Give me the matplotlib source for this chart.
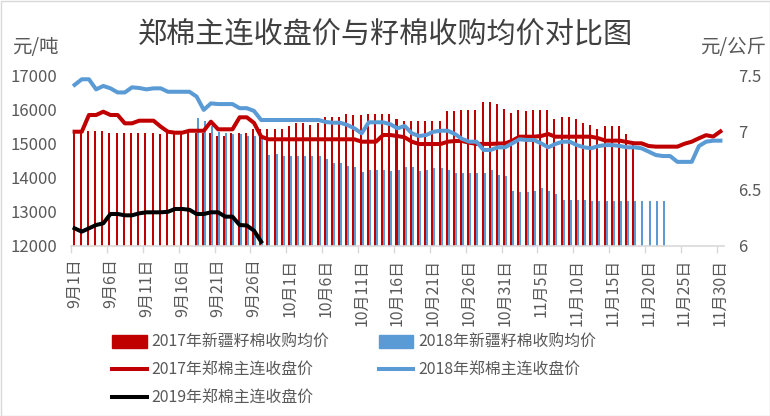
import numpy as np
import matplotlib
matplotlib.use("Agg")
import matplotlib.pyplot as plt
from matplotlib.patches import Patch, Rectangle
from matplotlib.lines import Line2D

plt.rcParams['font.family'] = ['Noto Sans CJK SC', 'DejaVu Sans']

# ---------------- data ----------------
months = [9] * 30 + [10] * 31 + [11] * 30
days = list(range(1, 31)) + list(range(1, 32)) + list(range(1, 31))
dates = [f"{m}月{d}日" for m, d in zip(months, days)]

# 2017 seed cotton purchase price (元/公斤), Sep 1 .. Nov 18
seed_2017 = [7.00, 7.00, 7.01, 7.01, 7.01,
             6.99, 6.99, 6.99, 6.99, 6.99, 6.99, 6.99,
             6.98,
             6.99, 6.99, 6.99, 6.99, 6.99, 6.99, 6.99,
             6.965, 6.965,
             6.99, 6.99, 6.99,
             7.03, 7.03, 7.03, 7.03, 7.03,
             7.05, 7.08, 7.08, 7.06, 7.08,
             7.13, 7.13, 7.13,
             7.16, 7.15, 7.15,
             7.16, 7.16, 7.16, 7.16,
             7.11,
             7.10, 7.10, 7.10, 7.10, 7.10, 7.10,
             7.18, 7.18, 7.19, 7.19, 7.19, 7.26, 7.26, 7.25, 7.20,
             7.17, 7.19, 7.18, 7.19, 7.19, 7.19, 7.11, 7.13, 7.13,
             7.11, 7.08, 7.06, 7.03, 7.05, 7.05, 7.05, 6.98, 6.90]

# 2018 seed cotton purchase price (元/公斤), Sep 18 .. Nov 22
seed_2018_start = 17
seed_2018 = [7.12, 7.10, 7.05, 7.00, 6.99, 6.98, 6.98, 6.965, 6.965, 6.96,
             6.80, 6.81,
             6.79, 6.79, 6.79, 6.79, 6.79, 6.79,
             6.76, 6.725, 6.725, 6.70, 6.69, 6.65, 6.67, 6.67, 6.67, 6.66,
             6.67, 6.69, 6.69, 6.66, 6.67, 6.68, 6.68, 6.67,
             6.64, 6.64, 6.64, 6.64, 6.64,
             6.67, 6.62, 6.61, 6.48, 6.47, 6.47, 6.48, 6.51, 6.48, 6.46,
             6.40, 6.40, 6.40, 6.40,
             6.395, 6.395, 6.395, 6.395, 6.395, 6.395, 6.395, 6.395, 6.395,
             6.395, 6.395]

# Zhengzhou cotton main contract close (元/吨)
cf_2017 = [15342, 15342, 15830, 15830, 15927, 15830, 15830, 15587, 15587,
           15664, 15664, 15664, 15490, 15342, 15313, 15313, 15370, 15370,
           15370, 15635, 15412, 15412, 15412, 15763, 15763, 15600, 15200,
           15120, 15120, 15120, 15120, 15120, 15120, 15120, 15120, 15120,
           15120, 15120, 15120, 15120,
           15050, 15050, 15050,
           15245, 15245, 15215, 15178, 15050,
           14982, 14982, 14982, 14982,
           15050, 15070, 15070, 15020,
           14985, 14985, 14985, 14995, 15000,
           15080, 15196, 15196, 15196, 15216, 15275,
           15196, 15196, 15196, 15196, 15196, 15196,
           15150,
           15080, 15080, 15080,
           15040, 15003, 15003, 14924,
           14905, 14905, 14905, 14905,
           14990, 15050, 15150, 15240, 15200, 15350]

cf_2018 = [16710, 16875, 16875, 16580, 16680, 16610, 16490, 16490, 16640,
           16620, 16580, 16610, 16610, 16510, 16510, 16510, 16510, 16370,
           15980, 16170, 16150, 16150, 16150, 16030, 16030, 15950,
           15684, 15684, 15684, 15684, 15684, 15684, 15684, 15684, 15684,
           15626, 15605, 15605, 15540, 15440, 15295, 15617, 15617, 15617,
           15560, 15440, 15510, 15295, 15216, 15245, 15340, 15370, 15370,
           15275, 15130, 15050, 15050, 14807, 14810, 14885, 14885,
           15003, 15120, 15100, 15100, 15003, 14885, 14982, 15050, 15050,
           14950, 14885, 14857, 14924, 14950, 14950, 14924, 14885, 14885,
           14857, 14760, 14660, 14630, 14630, 14460, 14460, 14460, 14920,
           15050, 15080, 15080]

cf_2019 = [12517, 12420, 12517, 12614, 12663, 12936, 12936, 12897, 12897,
           12955, 12985, 12985, 12985, 13000, 13082, 13082, 13060, 12936,
           12936, 12985, 12985, 12858, 12858, 12614, 12600, 12450, 12127]

label_step = 5

# ---------------- colours ----------------
RED = '#C00000'
BLUE = '#5B9BD5'
BLACK = '#000000'
GREY_TXT = '#595959'
GREY_AX = '#D9D9D9'

W, H = 770, 416
fig = plt.figure(figsize=(W / 100, H / 100), dpi=100)
fig.patch.set_facecolor('white')
fig.add_artist(Rectangle((0.5 / W, 0.5 / H), 1 - 1 / W, 1 - 1 / H,
                         transform=fig.transFigure, fill=False,
                         edgecolor=GREY_AX, lw=1))

x0, x1 = 71, 724
y_top, y_bot = 75, 246
ax = fig.add_axes([x0 / W, 1 - y_bot / H, (x1 - x0) / W, (y_bot - y_top) / H])
axr = ax.twinx()
ax.set_zorder(axr.get_zorder() + 1)
ax.patch.set_visible(False)

n = len(dates)
idx = np.arange(n)

# bars (secondary axis)
bw = 0.28
axr.bar(idx[:len(seed_2017)] - bw / 2, seed_2017, width=bw, color=RED, linewidth=0)
idx18 = np.arange(seed_2018_start, seed_2018_start + len(seed_2018))
axr.bar(idx18 + bw / 2, seed_2018, width=bw, color=BLUE, linewidth=0)
axr.set_ylim(6, 7.5)
axr.set_yticks([6, 6.5, 7, 7.5])
axr.set_yticklabels(['6', '6.5', '7', '7.5'])

# lines (primary axis)
lw = 2.9
ax.plot(np.arange(len(cf_2017)), cf_2017, color=RED, lw=lw, solid_joinstyle='round')
ax.plot(np.arange(len(cf_2018)), cf_2018, color=BLUE, lw=lw, solid_joinstyle='round')
ax.plot(np.arange(len(cf_2019)), cf_2019, color=BLACK, lw=lw, solid_joinstyle='round')
ax.set_ylim(12000, 17000)
ax.set_yticks(range(12000, 17001, 1000))

ax.set_xlim(-0.5, n - 0.5)
axr.set_xlim(-0.5, n - 0.5)
ax.set_xticks(idx[::label_step])
ax.set_xticklabels(dates[::label_step], rotation=90, fontsize=11.5, color=GREY_TXT)
ax.set_xticks(np.arange(-0.5, n - 1, label_step), minor=True)
ax.tick_params(axis='x', which='major', length=0, pad=9)
ax.tick_params(axis='x', which='minor', length=5, color=GREY_AX, width=1)
ax.tick_params(axis='y', length=0, labelsize=12, colors=GREY_TXT, pad=10)
axr.tick_params(axis='y', length=0, labelsize=12, colors=GREY_TXT, pad=10)
axr.tick_params(axis='x', length=0, labelbottom=False)

for a in (ax, axr):
    for s in a.spines.values():
        s.set_visible(False)
ax.spines['bottom'].set_visible(True)
ax.spines['bottom'].set_color(GREY_AX)
ax.spines['bottom'].set_linewidth(1.2)

# titles / units
fig.text(385 / W, 1 - 35 / H, '郑棉主连收盘价与籽棉收购均价对比图', ha='center', va='center',
         fontsize=21, color='#404040')
fig.text(12 / W, 1 - 47 / H, '元/吨', ha='left', va='center', fontsize=14, color=GREY_TXT)
fig.text(766 / W, 1 - 47 / H, '元/公斤', ha='right', va='center', fontsize=14, color=GREY_TXT)

# legend
handles = [Patch(color=RED), Line2D([], [], color=RED, lw=lw), Line2D([], [], color=BLACK, lw=lw),
           Patch(color=BLUE), Line2D([], [], color=BLUE, lw=lw)]
labels = ['2017年新疆籽棉收购均价', '2017年郑棉主连收盘价', '2019年郑棉主连收盘价',
          '2018年新疆籽棉收购均价', '2018年郑棉主连收盘价']
leg = fig.legend(handles, labels, ncol=2, loc='upper left',
                 bbox_to_anchor=(112 / W, 1 - 334 / H), frameon=False,
                 fontsize=11.4, handlelength=2.2, handleheight=0.85, handletextpad=0.3,
                 columnspacing=3.1, labelspacing=0.68, borderpad=0, borderaxespad=0)
for t in leg.get_texts():
    t.set_color(GREY_TXT)

fig.savefig('out.png', dpi=100, facecolor='white')
